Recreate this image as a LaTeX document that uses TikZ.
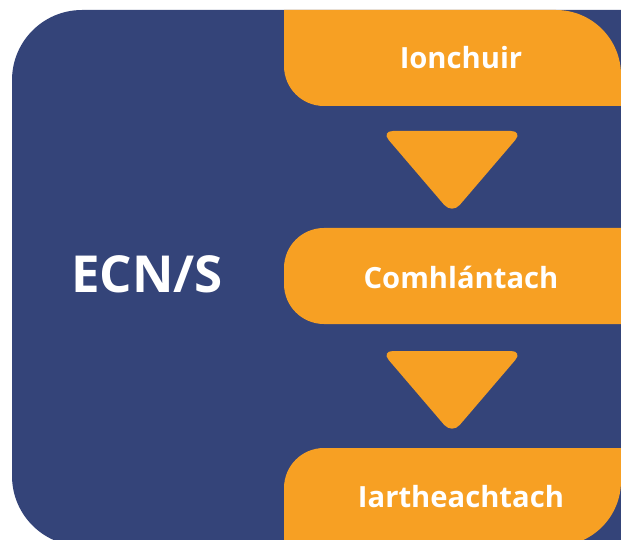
\documentclass[tikz,border=0pt]{standalone}
\usepackage{fontspec}
\setmainfont{Open Sans}
\definecolor{ecnblue}{RGB}{52,68,121}
\definecolor{ecnorange}{RGB}{247,160,35}
\begin{document}
\begin{tikzpicture}[x=1pt,y=1pt,
  lbl/.style={text=white,font=\bfseries\fontsize{29.2}{31}\selectfont,anchor=base,inner sep=0pt},
  tri/.style={fill=ecnorange,rounded corners=12pt}]
\useasboundingbox (0,0) rectangle (621,539);
\clip (0,0) rectangle (621,539);
% blue panel
\fill[ecnblue,rounded corners=70pt] (12,-7) rectangle (700,529);
% top orange box
\fill[ecnorange] (284,529) -- (556,529) arc[start angle=90,end angle=0,radius=65]
  -- (621,433) -- (324,433) arc[start angle=270,end angle=180,radius=40] -- cycle;
% middle orange box
\fill[ecnorange,rounded corners=40pt] (284,215) rectangle (700,311);
% bottom orange box
\fill[ecnorange] (284,-7) -- (284,51) arc[start angle=180,end angle=90,radius=40]
  -- (621,91) -- (621,58) arc[start angle=0,end angle=-90,radius=65] -- cycle;
% arrows
\fill[tri] (381,408) -- (523,408) -- (452,325) -- cycle;
\fill[tri] (381,188) -- (523,188) -- (452,105) -- cycle;
% labels
\node[lbl] (a) at (461,470) {Ionchuir};
\node[lbl] (b) at (461,251) {Comhlántach};
\node[lbl] (c) at (461,32) {Iartheachtach};
\node[lbl,font=\bfseries\fontsize{51}{54}\selectfont] (e) at (147,247) {ECN/S};
\end{tikzpicture}
\end{document}
